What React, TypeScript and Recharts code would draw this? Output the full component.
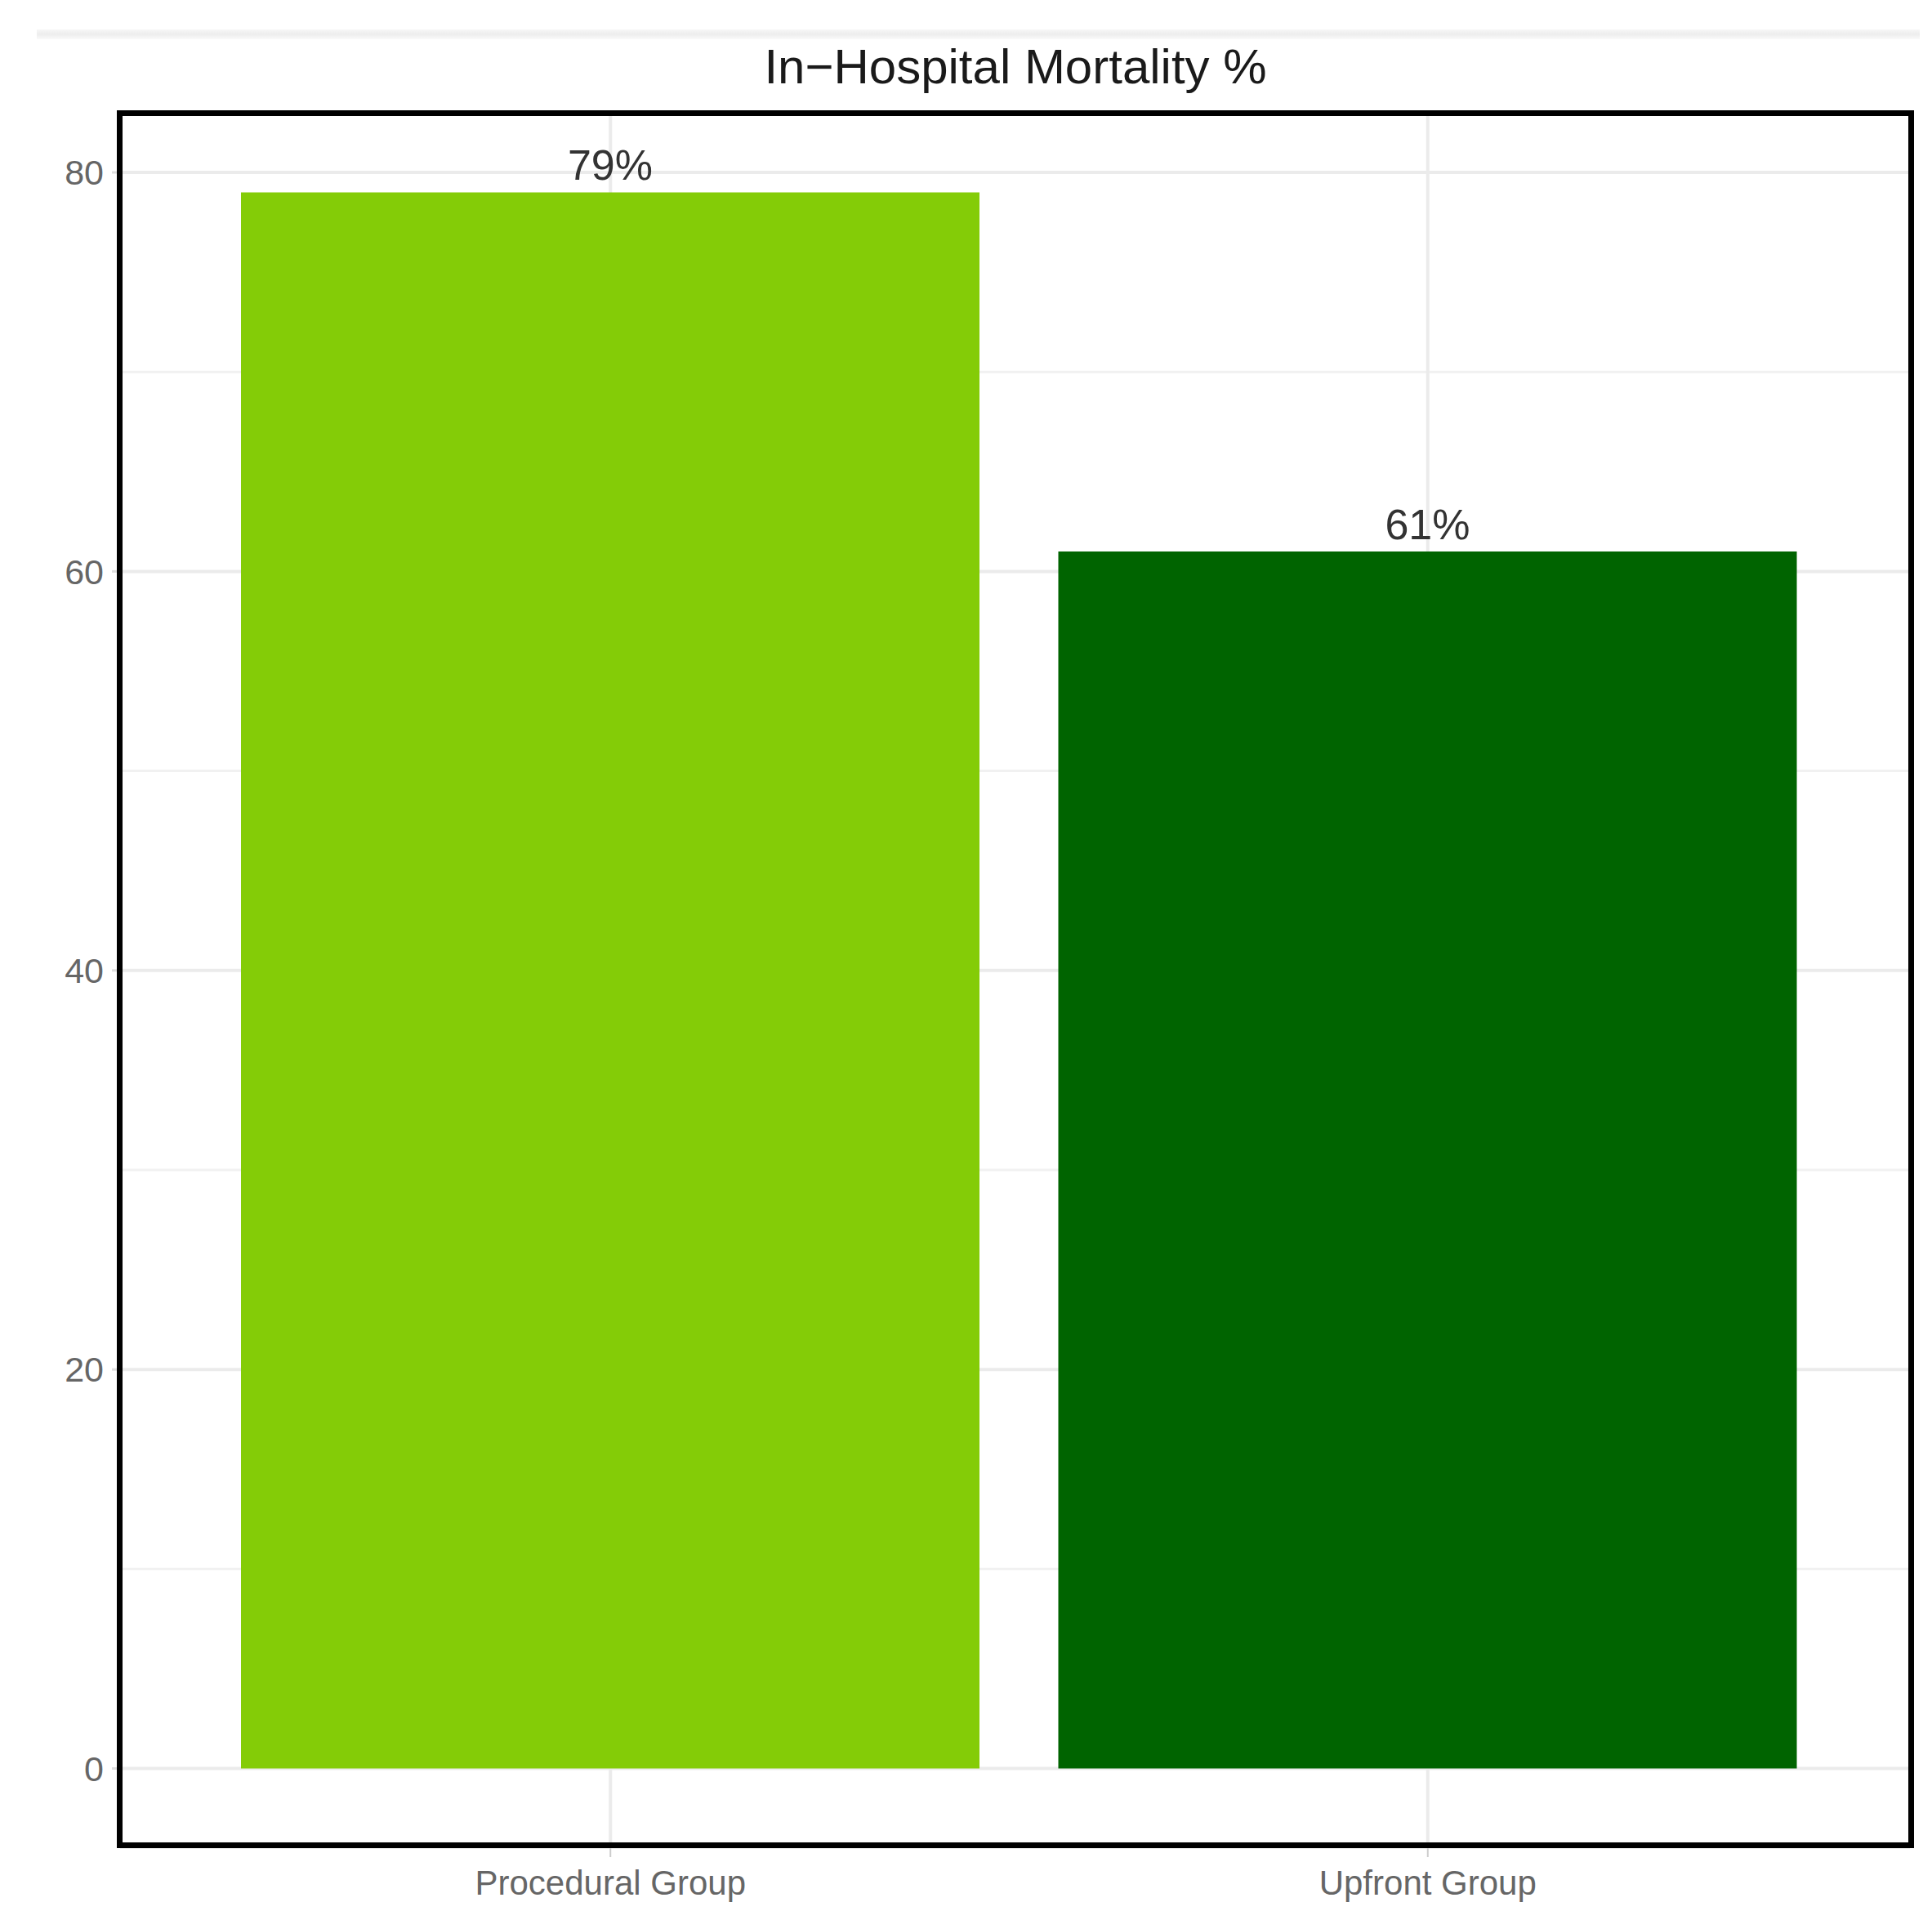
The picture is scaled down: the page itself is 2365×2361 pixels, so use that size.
import React from "react";
import {
  BarChart,
  Bar,
  XAxis,
  YAxis,
  CartesianGrid,
  LabelList,
  Cell,
} from "recharts";

const GROUPS = ["Procedural Group", "Upfront Group"];
const MORTALITY = [79, 61];
const BAR_COLORS = ["#84CC07", "#006400"];
const Y_TICKS = [0, 20, 40, 60, 80];
const MINOR_TICKS = [10, 30, 50, 70];

const FONT = "'Liberation Sans', Arial, Helvetica, sans-serif";

const data = GROUPS.map((g, i) => ({ group: g, value: MORTALITY[i] }));

export default function App() {
  return (
    <div
      style={{
        position: "absolute",
        left: 0,
        top: 0,
        width: 2365,
        height: 2361,
        background: "#fff",
        fontFamily: FONT,
      }}
    >
      {/* faint band along the top edge */}
      <div
        style={{
          position: "absolute",
          left: 45,
          top: 36,
          width: 2305,
          height: 12,
          background: "linear-gradient(#f7f7f7, #ededed 50%, #fafafa)",
        }}
      />
      <div
        style={{
          position: "absolute",
          left: 0,
          width: 2486,
          top: 52,
          textAlign: "center",
          fontSize: 60,
          lineHeight: "60px",
          color: "#1a1a1a",
        }}
      >
        In−Hospital Mortality %
      </div>

      <div style={{ position: "absolute", left: 0, top: 0 }}>
        <BarChart
          width={2365}
          height={2361}
          data={data}
          margin={{ top: 139, right: 27, bottom: 0, left: 0 }}
        >
          {/* minor grid, then major grid */}
          <CartesianGrid
            vertical={false}
            horizontalValues={MINOR_TICKS}
            stroke="#f1f1f1"
            strokeWidth={3}
          />
          <CartesianGrid stroke="#ebebeb" strokeWidth={4} />
          <XAxis
            dataKey="group"
            height={100}
            padding={{ left: 100, right: 90 }}
            axisLine={false}
            tickLine={{ stroke: "#cccccc", strokeWidth: 2 }}
            tickSize={12}
            tick={{ fill: "#666666", fontSize: 42, fontFamily: FONT, dy: 14 }}
          />
          <YAxis
            width={147}
            domain={[-3.95, 82.95]}
            ticks={Y_TICKS}
            allowDataOverflow
            axisLine={false}
            tickLine={{ stroke: "#dddddd", strokeWidth: 3 }}
            tickSize={10}
            tick={{ fill: "#666666", fontSize: 43, fontFamily: FONT, dx: -8 }}
          />
          <Bar dataKey="value" barSize={904} isAnimationActive={false}>
            {data.map((d, i) => (
              <Cell key={d.group} fill={BAR_COLORS[i]} />
            ))}
            <LabelList
              dataKey="value"
              position="top"
              offset={15}
              formatter={(v: number) => `${v}%`}
              style={{ fill: "#333333", fontSize: 52, fontFamily: FONT }}
            />
          </Bar>
        </BarChart>
      </div>

      {/* panel frame */}
      <div
        style={{
          position: "absolute",
          left: 143,
          top: 135,
          width: 2200,
          height: 2127,
          border: "7px solid #000",
          boxSizing: "border-box",
          pointerEvents: "none",
        }}
      />
    </div>
  );
}
